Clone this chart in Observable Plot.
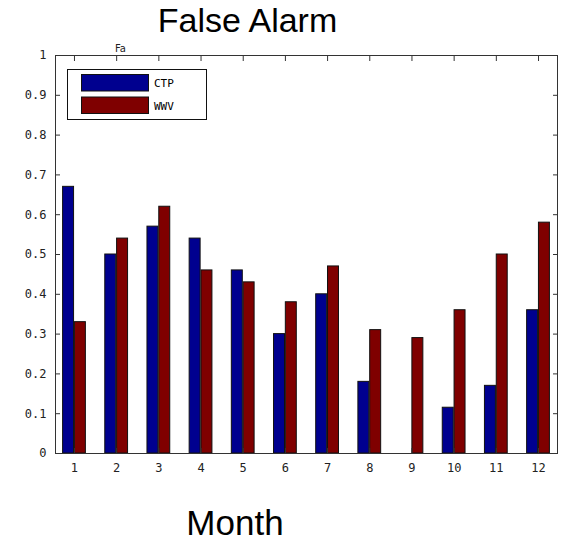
<!DOCTYPE html>
<html><head><meta charset="utf-8">
<script src="https://cdn.jsdelivr.net/npm/d3@7"></script>
<script src="https://cdn.jsdelivr.net/npm/@observablehq/plot@0.6"></script>
<style>
body{margin:0;background:#fff;}
#wrap{position:relative;width:563px;height:541px;overflow:hidden;}
</style></head><body><div id="wrap"></div>
<script>
const months = [1, 2, 3, 4, 5, 6, 7, 8, 9, 10, 11, 12];
const ctp = [0.67, 0.50, 0.57, 0.54, 0.46, 0.30, 0.40, 0.18, 0.00, 0.115, 0.17, 0.36];
const wwv = [0.33, 0.54, 0.62, 0.46, 0.43, 0.38, 0.47, 0.31, 0.29, 0.36, 0.50, 0.58];
const seriesNames = ["CTP", "WWV"];
const seriesColors = ["#00008f", "#7f0000"];
const yTicks = [0, 0.1, 0.2, 0.3, 0.4, 0.5, 0.6, 0.7, 0.8, 0.9, 1];
const yTickLabels = ["0", "0.1", "0.2", "0.3", "0.4", "0.5", "0.6", "0.7", "0.8", "0.9", "1"];
const xTickLabels = ["1", "2", "3", "4", "5", "6", "7", "8", "9", "10", "11", "12"];
const titleText = "False Alarm";
const xLabelText = "Month";

const rows = [];
months.forEach((m, i) => {
  rows.push({month: m, s: 0, value: ctp[i]});
  rows.push({month: m, s: 1, value: wwv[i]});
});

const barW = 0.26, gap = 0.01;
const tickFont = "DejaVu Sans Mono";

const chart = Plot.plot({
  width: 563,
  height: 541,
  marginLeft: 55,
  marginRight: 6,
  marginTop: 55,
  marginBottom: 88,
  style: {background: "#fff", color: "#000"},
  x: {domain: [0.55, 12.45]},
  y: {domain: [0, 1]},
  marks: [
    Plot.rectY(rows, {
      x1: d => d.s === 0 ? d.month - gap - barW : d.month + gap,
      x2: d => d.s === 0 ? d.month - gap : d.month + gap + barW,
      y: "value",
      fill: d => seriesColors[d.s],
      stroke: "#111",
      strokeWidth: 1
    }),
    Plot.frame({stroke: "#333"}),
    Plot.axisY(yTicks, {anchor: "left", tickSize: -5, label: null,
      tickFormat: d => yTickLabels[yTicks.indexOf(d)],
      fontFamily: tickFont, fontSize: 12, stroke: "#333", fill: "#222"}),
    Plot.axisY(yTicks, {anchor: "right", tickSize: -5, label: null,
      tickFormat: () => "", stroke: "#333"}),
    Plot.axisX(months, {anchor: "bottom", tickSize: -5, tickPadding: 15, label: null,
      tickFormat: d => xTickLabels[months.indexOf(d)],
      fontFamily: tickFont, fontSize: 12, stroke: "#333", fill: "#222"}),
    Plot.axisX(months, {anchor: "top", tickSize: -5, label: null,
      tickFormat: () => "", stroke: "#333"})
  ]
});

document.getElementById("wrap").appendChild(chart);
const svg = d3.select(chart);

svg.append("text").attr("x", 247.5).attr("y", 32).attr("text-anchor", "middle")
  .attr("font-family", "Liberation Sans, Arial, sans-serif").attr("font-size", 34)
  .attr("fill", "#000").text(titleText);
svg.append("text").attr("x", 235).attr("y", 535).attr("text-anchor", "middle")
  .attr("font-family", "Liberation Sans, Arial, sans-serif").attr("font-size", 35)
  .attr("fill", "#000").text(xLabelText);
svg.append("text").attr("x", 115).attr("y", 52).attr("text-anchor", "start")
  .attr("font-family", "DejaVu Sans, sans-serif").attr("font-size", 10)
  .attr("fill", "#222").text(titleText.slice(0, 2));

// legend
const lg = svg.append("g");
lg.append("rect").attr("x", 67.5).attr("y", 69.5).attr("width", 139).attr("height", 50)
  .attr("fill", "#fff").attr("stroke", "#111");
seriesNames.forEach((name, i) => {
  const y = 74.5 + i * 22.5;
  lg.append("rect").attr("x", 81.5).attr("y", y).attr("width", 67).attr("height", 16.5)
    .attr("fill", seriesColors[i]).attr("stroke", "#111");
  lg.append("text").attr("x", 154).attr("y", y + 12.5).attr("text-anchor", "start")
    .attr("font-family", tickFont).attr("font-size", 11).attr("fill", "#000").text(name);
});
</script>
</body></html>
